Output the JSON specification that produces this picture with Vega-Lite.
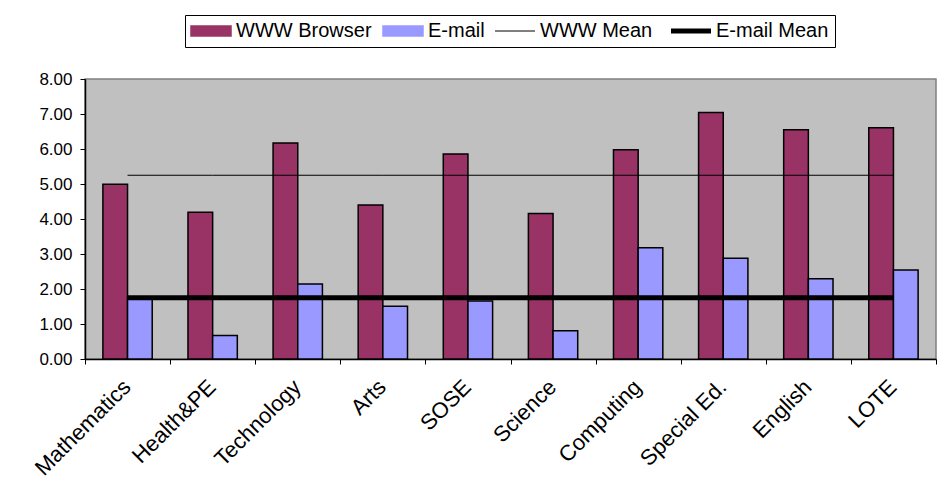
{
  "$schema": "https://vega.github.io/schema/vega-lite/v6.json",
  "width": 851,
  "height": 280,
  "autosize": {"type": "none"},
  "padding": {"left": 85, "top": 79, "right": 1, "bottom": 133},
  "background": "white",
  "config": {
    "view": {"fill": "#C0C0C0", "stroke": "#808080", "strokeWidth": 1.5},
    "font": "Liberation Sans",
    "axis": {"labelFont": "Liberation Sans", "labelColor": "black", "domainColor": "black", "domainWidth": 1.5, "tickColor": "black", "grid": false, "title": null},
    "axisY": {"tickCount": 9, "labelOverlap": false, "labelFontSize": 17, "tickSize": 5, "labelPadding": 8, "format": ".2f"},
    "legend": {
      "symbolType": "M-2,-0.5H2V0.5H-2Z",
      "symbolSize": 400,
      "symbolStrokeColor": "black",
      "symbolStrokeWidth": 1.5,
      "symbolOpacity": 1
    }
  },
  "datasets": {
    "bars": [
      {"subject": "Mathematics", "series": "WWW Browser", "value": 4.99},
      {"subject": "Mathematics", "series": "E-mail", "value": 1.76},
      {"subject": "Health&PE", "series": "WWW Browser", "value": 4.19},
      {"subject": "Health&PE", "series": "E-mail", "value": 0.67},
      {"subject": "Technology", "series": "WWW Browser", "value": 6.17},
      {"subject": "Technology", "series": "E-mail", "value": 2.14},
      {"subject": "Arts", "series": "WWW Browser", "value": 4.40},
      {"subject": "Arts", "series": "E-mail", "value": 1.51},
      {"subject": "SOSE", "series": "WWW Browser", "value": 5.86},
      {"subject": "SOSE", "series": "E-mail", "value": 1.66},
      {"subject": "Science", "series": "WWW Browser", "value": 4.16},
      {"subject": "Science", "series": "E-mail", "value": 0.81},
      {"subject": "Computing", "series": "WWW Browser", "value": 5.98},
      {"subject": "Computing", "series": "E-mail", "value": 3.18},
      {"subject": "Special Ed.", "series": "WWW Browser", "value": 7.04},
      {"subject": "Special Ed.", "series": "E-mail", "value": 2.88},
      {"subject": "English", "series": "WWW Browser", "value": 6.55},
      {"subject": "English", "series": "E-mail", "value": 2.29},
      {"subject": "LOTE", "series": "WWW Browser", "value": 6.61},
      {"subject": "LOTE", "series": "E-mail", "value": 2.54}
    ],
    "means": [
      {"subject": "Mathematics", "series": "WWW Mean", "value": 5.25},
      {"subject": "Health&PE", "series": "WWW Mean", "value": 5.25},
      {"subject": "Technology", "series": "WWW Mean", "value": 5.25},
      {"subject": "Arts", "series": "WWW Mean", "value": 5.25},
      {"subject": "SOSE", "series": "WWW Mean", "value": 5.25},
      {"subject": "Science", "series": "WWW Mean", "value": 5.25},
      {"subject": "Computing", "series": "WWW Mean", "value": 5.25},
      {"subject": "Special Ed.", "series": "WWW Mean", "value": 5.25},
      {"subject": "English", "series": "WWW Mean", "value": 5.25},
      {"subject": "LOTE", "series": "WWW Mean", "value": 5.25},
      {"subject": "Mathematics", "series": "E-mail Mean", "value": 1.75},
      {"subject": "Health&PE", "series": "E-mail Mean", "value": 1.75},
      {"subject": "Technology", "series": "E-mail Mean", "value": 1.75},
      {"subject": "Arts", "series": "E-mail Mean", "value": 1.75},
      {"subject": "SOSE", "series": "E-mail Mean", "value": 1.75},
      {"subject": "Science", "series": "E-mail Mean", "value": 1.75},
      {"subject": "Computing", "series": "E-mail Mean", "value": 1.75},
      {"subject": "Special Ed.", "series": "E-mail Mean", "value": 1.75},
      {"subject": "English", "series": "E-mail Mean", "value": 1.75},
      {"subject": "LOTE", "series": "E-mail Mean", "value": 1.75}
    ]
  },
  "encoding": {
    "x": {
      "field": "subject", "type": "nominal",
      "sort": ["Mathematics", "Health&PE", "Technology", "Arts", "SOSE", "Science", "Computing", "Special Ed.", "English", "LOTE"],
      "scale": {"paddingInner": 0, "paddingOuter": 0},
      "axis": {"labelAngle": -45, "labelFontSize": 22, "tickBand": "extent", "tickSize": 5, "tickWidth": 1, "labelPadding": 12, "labelOffset": -8}
    },
    "y": {
      "field": "value", "type": "quantitative",
      "scale": {"domain": [0, 8], "nice": false}
    },
    "color": {
      "field": "series", "type": "nominal",
      "scale": {"domain": ["WWW Browser", "E-mail", "WWW Mean", "E-mail Mean"], "range": ["#993366", "#9999FF", "#000000", "#000000"]},
      "legend": {
        "title": null,
        "orient": "none",
        "legendX": 100,
        "legendY": -64,
        "direction": "horizontal",
        "strokeColor": "black",
        "fillColor": "white",
        "padding": 6,
        "labelFont": "Liberation Sans",
        "labelFontSize": 20,
        "labelColor": "black",
        "labelOffset": 25,
        "columnPadding": 8,
        "symbolType": "M-2,-0.5H2V0.5H-2Z",
        "symbolSize": 400,
        "encode": {
          "symbols": {
            "update": {
              "shape": {"signal": "datum.value == 'WWW Mean' || datum.value == 'E-mail Mean' ? 'M-2,0H2' : 'M-2,-0.5H2V0.5H-2Z'"},
              "fill": {"signal": "datum.value == 'WWW Browser' ? '#993366' : datum.value == 'E-mail' ? '#9999FF' : 'transparent'"},
              "stroke": {"value": "black"},
              "strokeWidth": {"signal": "datum.value == 'E-mail Mean' ? 5 : datum.value == 'WWW Mean' ? 1 : 1.5"},
              "size": {"value": 400},
              "x": {"value": 20},
              "opacity": {"value": 1}
            }
          }
        }
      }
    }
  },
  "layer": [
    {
      "data": {"name": "bars"},
      "mark": {"type": "bar", "stroke": "black", "strokeWidth": 1.5},
      "encoding": {
        "xOffset": {
          "field": "series", "type": "nominal",
          "sort": ["WWW Browser", "E-mail"],
          "scale": {"paddingInner": 0, "paddingOuter": 0.725}
        }
      }
    },
    {
      "data": {"name": "means"},
      "transform": [{"filter": "datum.series == 'WWW Mean'"}],
      "mark": {"type": "line", "strokeWidth": 1}
    },
    {
      "data": {"name": "means"},
      "transform": [{"filter": "datum.series == 'E-mail Mean'"}],
      "mark": {"type": "line", "strokeWidth": 5}
    }
  ]
}
